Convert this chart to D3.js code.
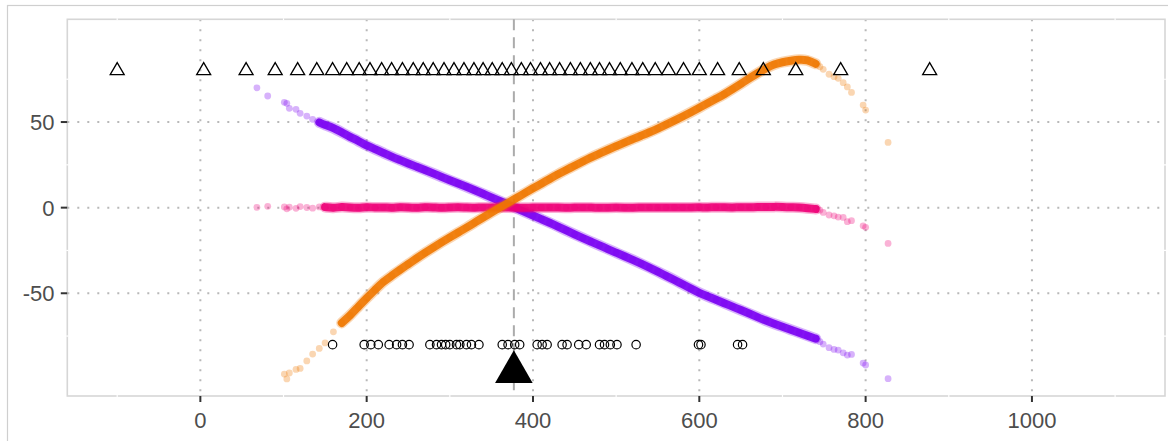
<!DOCTYPE html>
<meta charset="utf-8">
<script src="https://d3js.org/d3.v7.min.js"></script>

<svg id="chart" width="1168" height="441"></svg>

<style>
body {
  margin: 0;
  background: #fff;
}
svg {
  display: block;
  font-family: 'Liberation Sans', Arial, sans-serif;
}
.tick-label {
  font-size: 22px;
  fill: #4d4d4d;
}
</style>

<script>
  // shared x positions of the three point series
  const xs = [68, 81, 101, 104, 107, 115, 120, 128, 135, 143,
    150, 160, 170, 180, 190, 200, 210, 220, 230, 240,
    250, 260, 270, 280, 290, 300, 310, 320, 330, 340,
    350, 360, 370, 380, 390, 400, 410, 420, 430, 440,
    450, 460, 470, 480, 490, 500, 510, 520, 530, 540,
    550, 560, 570, 580, 590, 600, 610, 620, 630, 640,
    650, 660, 670, 680, 690, 700, 710, 720, 730, 740,
    745, 749, 756, 762, 767, 773, 778, 783, 797, 800, 827];

  const purpleY = [70.0, 65.2, 61.5, 60.9, 58.0, 57.4, 55.1, 53.5, 51.6, 49.8,
    48.3, 46.6, 44.0, 41.3, 39.0, 36.2, 34.2, 32.0, 29.8, 27.8,
    25.8, 23.9, 22.0, 20.0, 18.0, 16.0, 14.1, 12.2, 10.2, 8.1,
    6.0, 3.9, 1.8, -0.3, -2.5, -4.6, -6.7, -8.8, -11.0, -13.3,
    -15.6, -17.8, -19.9, -22.0, -24.2, -26.3, -28.4, -30.5, -32.7, -35.0,
    -37.4, -39.8, -42.2, -44.8, -47.3, -49.8, -51.8, -53.8, -55.8, -57.8,
    -59.8, -61.8, -63.9, -66.0, -67.8, -69.5, -71.3, -73.0, -74.8, -76.5,
    -78.3, -79.7, -81.8, -82.8, -83.2, -84.8, -86.1, -85.7, -90.8, -91.9, -99.9];

  const pinkY = [0.2, 0.8, 0.4, -0.7, 0.3, -0.4, 0.6, 0.1, -0.3, 0.4,
    0.3, -0.2, 0.5, 0.1, -0.3, 0.4, 0.0, 0.2, -0.2, 0.3,
    0.1, -0.1, 0.3, 0.2, -0.2, 0.1, 0.3, 0.0, -0.1, 0.2,
    0.1, 0.0, 0.1, 0.0, -0.1, 0.1, 0.0, 0.2, 0.0, -0.1,
    0.1, 0.0, 0.1, -0.1, 0.0, 0.1, 0.0, -0.1, 0.1, 0.2,
    0.0, 0.1, 0.2, 0.0, 0.1, 0.2, 0.1, 0.3, 0.2, 0.1,
    0.3, 0.2, 0.4, 0.3, 0.5, 0.4, 0.2, 0.1, -0.3, -0.8,
    -1.5, -2.8, -4.3, -4.8, -5.5, -5.7, -8.2, -7.6, -10.6, -11.5, -20.9];

  const orangeY = [null, null, -97.2, -100.0, -96.5, -94.5, -93.9, -89.5, -85.5, -82.2,
    -79.0, -72.5, -67.3, -63.0, -57.8, -52.8, -48.0, -43.2, -39.8, -36.3,
    -33.0, -29.6, -26.4, -23.3, -20.3, -17.4, -14.5, -11.7, -8.7, -5.7,
    -2.9, 0.0, 2.8, 5.6, 8.5, 11.3, 14.0, 16.8, 19.5, 22.0,
    24.5, 27.0, 29.4, 31.6, 33.8, 35.9, 38.0, 40.0, 42.0, 44.0,
    46.2, 48.5, 50.8, 53.2, 55.7, 58.3, 61.0, 63.6, 66.2, 69.2,
    72.3, 75.5, 78.5, 81.4, 83.8, 85.0, 85.8, 86.5, 86.3, 84.0,
    82.3, 80.8, 77.9, 76.5, 75.5, 73.0, 70.5, 67.3, 59.9, 57.0, 38.1];

  // open triangles along the top row (y = 80)
  const triX = [-100, 4, 55, 90, 117, 140, 159, 176, 191, 204,
    218, 230, 243, 256, 268, 280, 293, 305, 317, 329,
    340, 351, 363, 374, 386, 397, 409, 420, 432, 445,
    457, 469, 480, 492, 505, 519, 532, 547, 563, 581,
    600, 622, 648, 677, 716, 770, 877];
  const triY = 80;

  // open circles along the bottom row (y = -80)
  const circX = [159, 197, 205, 214, 227, 236, 243, 251, 276, 284,
    290, 295, 300, 308, 312, 320, 326, 335, 363, 370,
    378, 384, 405, 411, 417, 435, 441, 455, 464, 480,
    486, 493, 501, 524, 599, 602, 646, 652];
  const circY = -80;

  // reference marker and dashed line
  const refX = 377;
  const refY = -96;

  const xTicks = [0, 200, 400, 600, 800, 1000];
  const yTicks = [-50, 0, 50];
  const xMinor = [-100, 100, 300, 500, 700, 900, 1100];
  const yMinor = [-75, -25, 25, 75];

  const svg = d3.select('#chart');

  const pLeft = 67.3, pRight = 1165, pTop = 19.3, pBottom = 396;

  const x = d3.scaleLinear().domain([-160, 1160]).range([pLeft, pRight]);
  const y = d3.scaleLinear().domain([-110, 110]).range([pBottom, pTop]);

  // outer plot border (runs off the right and bottom edge)
  svg.append('rect')
    .attr('x', 7.5).attr('y', 5.5)
    .attr('width', 1180).attr('height', 460)
    .attr('fill', 'none')
    .attr('stroke', '#cfcfcf')
    .attr('stroke-width', 1.2);

  svg.append('clipPath').attr('id', 'panel')
    .append('rect')
    .attr('x', pLeft).attr('y', pTop)
    .attr('width', pRight - pLeft).attr('height', pBottom - pTop);

  // major grid, dotted
  const grid = svg.append('g')
    .attr('stroke', '#b8b8b8')
    .attr('stroke-width', 2)
    .attr('stroke-dasharray', '2 8');

  grid.selectAll('.gx').data(xTicks).enter().append('line')
    .attr('x1', d => x(d)).attr('x2', d => x(d))
    .attr('y1', pTop).attr('y2', pBottom);

  grid.selectAll('.gy').data(yTicks).enter().append('line')
    .attr('x1', pLeft).attr('x2', pRight)
    .attr('y1', d => y(d)).attr('y2', d => y(d));

  // panel border
  svg.append('rect')
    .attr('x', pLeft).attr('y', pTop)
    .attr('width', pRight - pLeft).attr('height', pBottom - pTop)
    .attr('fill', 'none')
    .attr('stroke', '#d6d6d6')
    .attr('stroke-width', 1.6);

  // white minor grid lines cut the border
  const minor = svg.append('g')
    .attr('stroke', '#fff')
    .attr('stroke-width', 1.2);

  minor.selectAll('.mx').data(xMinor).enter().append('line')
    .attr('x1', d => x(d)).attr('x2', d => x(d))
    .attr('y1', pTop - 1).attr('y2', pTop + 1);
  minor.selectAll('.mx2').data(xMinor).enter().append('line')
    .attr('x1', d => x(d)).attr('x2', d => x(d))
    .attr('y1', pBottom - 1).attr('y2', pBottom + 1);
  minor.selectAll('.my').data(yMinor).enter().append('line')
    .attr('x1', pLeft - 1).attr('x2', pLeft + 1)
    .attr('y1', d => y(d)).attr('y2', d => y(d));
  minor.selectAll('.my2').data(yMinor).enter().append('line')
    .attr('x1', pRight - 1).attr('x2', pRight + 1)
    .attr('y1', d => y(d)).attr('y2', d => y(d));

  // dashed reference line
  svg.append('line')
    .attr('x1', x(refX)).attr('x2', x(refX))
    .attr('y1', pTop).attr('y2', pBottom)
    .attr('stroke', '#ababab')
    .attr('stroke-width', 2)
    .attr('stroke-dasharray', '11 7');

  const series = [
    { name: 'purple', ys: purpleY, color: '#7a00f2', from: 140 },
    { name: 'pink', ys: pinkY, color: '#ee0078', from: 150 },
    { name: 'orange', ys: orangeY, color: '#f07800', from: 165 }
  ];

  const plot = svg.append('g').attr('clip-path', 'url(#panel)');
  const band = d3.line().x(p => x(p.x)).y(p => y(p.y)).curve(d3.curveBasis);

  series.forEach(s => {
    const pts = xs.map((v, i) => ({ x: v, y: s.ys[i] })).filter(p => p.y !== null);

    // overplotted core of the cloud: soft halo + solid centre
    const core = pts.filter(p => p.x >= s.from && p.x <= 740);
    plot.append('path')
      .datum(core)
      .attr('fill', 'none')
      .attr('stroke', s.color)
      .attr('stroke-width', 11)
      .attr('stroke-linecap', 'round')
      .attr('stroke-linejoin', 'round')
      .attr('opacity', 0.3)
      .attr('d', band);
    plot.append('path')
      .datum(core)
      .attr('fill', 'none')
      .attr('stroke', s.color)
      .attr('stroke-width', 8)
      .attr('stroke-linecap', 'round')
      .attr('stroke-linejoin', 'round')
      .attr('opacity', 0.9)
      .attr('d', band);

    plot.selectAll('.pt-' + s.name)
      .data(pts)
      .enter().append('circle')
      .attr('cx', p => x(p.x))
      .attr('cy', p => y(p.y))
      .attr('r', 3.4)
      .attr('fill', s.color)
      .attr('opacity', 0.3);
  });

  // top row triangles
  const smallTri = d3.symbol().type(d3.symbolTriangle).size(85);
  plot.selectAll('.tri').data(triX).enter().append('path')
    .attr('d', smallTri)
    .attr('transform', d => `translate(${x(d)}, ${y(triY)})`)
    .attr('fill', 'none')
    .attr('stroke', '#000')
    .attr('stroke-width', 1.3);

  // bottom row circles
  plot.selectAll('.circ').data(circX).enter().append('circle')
    .attr('cx', d => x(d))
    .attr('cy', y(circY))
    .attr('r', 4.2)
    .attr('fill', 'none')
    .attr('stroke', '#000')
    .attr('stroke-width', 1.2);

  // big filled marker
  plot.append('path')
    .attr('d', d3.symbol().type(d3.symbolTriangle).size(612)())
    .attr('transform', `translate(${x(refX)}, ${y(refY)})`)
    .attr('fill', '#000');

  // axes
  const axisX = svg.append('g');
  axisX.selectAll('line').data(xTicks).enter().append('line')
    .attr('x1', d => x(d)).attr('x2', d => x(d))
    .attr('y1', pBottom).attr('y2', pBottom + 6)
    .attr('stroke', '#333').attr('stroke-width', 2);
  axisX.selectAll('text').data(xTicks).enter().append('text')
    .attr('class', 'tick-label')
    .attr('x', d => x(d))
    .attr('y', 427.5)
    .attr('text-anchor', 'middle')
    .text(d => d);

  const axisY = svg.append('g');
  axisY.selectAll('line').data(yTicks).enter().append('line')
    .attr('x1', pLeft - 6.5).attr('x2', pLeft)
    .attr('y1', d => y(d)).attr('y2', d => y(d))
    .attr('stroke', '#333').attr('stroke-width', 2);
  axisY.selectAll('text').data(yTicks).enter().append('text')
    .attr('class', 'tick-label')
    .attr('x', 54.5)
    .attr('y', d => y(d))
    .attr('dy', '0.36em')
    .attr('text-anchor', 'end')
    .text(d => d);
</script>
